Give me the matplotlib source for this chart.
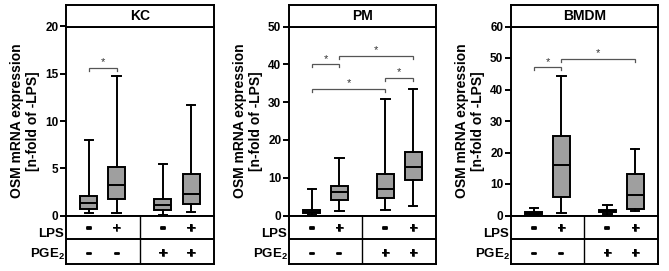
import matplotlib
matplotlib.use("Agg")
import matplotlib.pyplot as plt
import matplotlib.patheffects as pe

plt.rcParams['font.family'] = ['Liberation Sans', 'DejaVu Sans']
plt.rcParams['mathtext.fontset'] = 'custom'
plt.rcParams['mathtext.rm'] = 'Liberation Sans'
plt.rcParams['mathtext.bf'] = 'Liberation Sans:bold'

# ---------------- data ----------------
panel_titles = ["KC", "PM", "BMDM"]
ylabel_text = "OSM mRNA expression\n[n-fold of -LPS]"
lps_signs = ["-", "+", "-", "+"]
pge2_signs = ["-", "-", "+", "+"]
y_tops = [20, 50, 60]
y_steps = [5, 10, 10]

kc_whislo = [0.25, 0.25, 0.1, 0.42]
kc_q1 = [0.7, 1.72, 0.6, 1.26]
kc_med = [1.3, 3.26, 1.12, 2.3]
kc_q3 = [2.1, 5.15, 1.75, 4.4]
kc_whishi = [8.0, 14.8, 5.5, 11.65]

pm_whislo = [0.2, 1.15, 1.5, 2.5]
pm_q1 = [0.6, 4.05, 4.75, 9.4]
pm_med = [1.05, 6.25, 6.9, 12.95]
pm_q3 = [1.5, 7.9, 11.0, 16.8]
pm_whishi = [6.9, 15.1, 30.9, 33.5]

bmdm_whislo = [0.2, 0.7, 0.5, 1.3]
bmdm_q1 = [0.5, 5.8, 1.05, 2.2]
bmdm_med = [0.85, 16.0, 1.5, 6.5]
bmdm_q3 = [1.15, 25.1, 1.8, 13.1]
bmdm_whishi = [2.5, 44.3, 3.2, 21.1]

# significance brackets: (group a, group b, height)
kc_sig = [(0, 1, 15.6)]
pm_sig = [(0, 1, 40.0), (1, 3, 42.3), (0, 2, 33.4), (2, 3, 36.5)]
bmdm_sig = [(0, 1, 47.0), (1, 3, 49.6)]

panels = [
    (kc_whislo, kc_q1, kc_med, kc_q3, kc_whishi, kc_sig),
    (pm_whislo, pm_q1, pm_med, pm_q3, pm_whishi, pm_sig),
    (bmdm_whislo, bmdm_q1, bmdm_med, bmdm_q3, bmdm_whishi, bmdm_sig),
]

# ---------------- layout ----------------
W, H = 669, 271
fig = plt.figure(figsize=(W / 100, H / 100), dpi=100)

frame_left = [66, 289, 511]
frame_w = [148, 147, 147]
y_top, y_strip, y_plot, y_row, y_bot = 4.5, 26.5, 215.5, 238.5, 263.5
positions = [1.12, 1.87, 3.12, 3.88]
xlim = (0.5, 4.5)
LW = 1.4
box_color = "#9f9f9f"
sig_color = "#555555"
thick_dash = [pe.withStroke(linewidth=1.3, foreground='black')]
thick_plus = [pe.withStroke(linewidth=0.4, foreground='black')]


def fax(x0, y0, w, h):
    return fig.add_axes([x0 / W, 1 - (y0 + h) / H, w / W, h / H])


def sign_text(axb, x, y, s):
    if s == "-":
        axb.text(x, y, s, ha='center', va='center', fontsize=11, fontweight='bold',
                 path_effects=thick_dash)
    else:
        axb.text(x, y, s, ha='center', va='center', fontsize=10.5, fontweight='bold',
                 path_effects=thick_plus)


for i, (wl, q1, med, q3, wh, sig) in enumerate(panels):
    x0, w = frame_left[i], frame_w[i]
    # main plot
    ax = fax(x0, y_strip, w, y_plot - y_strip)
    stats = [dict(whislo=wl[k], q1=q1[k], med=med[k], q3=q3[k], whishi=wh[k], fliers=[])
             for k in range(4)]
    ax.bxp(stats, positions=positions, widths=0.46, patch_artist=True, showfliers=False,
           boxprops=dict(facecolor=box_color, edgecolor="black", linewidth=LW),
           medianprops=dict(color="black", linewidth=LW),
           whiskerprops=dict(color="black", linewidth=LW),
           capprops=dict(color="black", linewidth=LW))
    ax.set_xlim(*xlim)
    ax.set_ylim(0, y_tops[i])
    ax.set_xticks([])
    ax.set_yticks(range(0, y_tops[i] + 1, y_steps[i]))
    ax.tick_params(axis='y', direction='out', length=4, width=LW, labelsize=8.5, pad=1.5)
    for lab in ax.get_yticklabels():
        lab.set_fontweight('bold')
    for s in ax.spines.values():
        s.set_linewidth(LW)
    ax.set_ylabel(ylabel_text, fontsize=10, fontweight='bold', labelpad=4, linespacing=1.1)

    # significance brackets
    drop = y_tops[i] * 0.016
    for a, b, yv in sig:
        xa, xb = positions[a], positions[b]
        ax.plot([xa, xa, xb, xb], [yv - drop, yv, yv, yv - drop], color=sig_color,
                lw=0.9, solid_joinstyle='miter')
        ax.annotate("*", xy=((xa + xb) / 2, yv), xytext=(0, 0.5), textcoords='offset points',
                    ha='center', va='bottom', fontsize=8, color='#333333')

    # title strip
    axt = fax(x0, y_top, w, y_strip - y_top)
    axt.set_xticks([]); axt.set_yticks([])
    for s in axt.spines.values():
        s.set_linewidth(LW)
    axt.text(0.5, 0.5, panel_titles[i], ha='center', va='center', fontsize=10,
             fontweight='bold', transform=axt.transAxes)

    # table
    axb = fax(x0, y_plot, w, y_bot - y_plot)
    axb.set_xlim(*xlim)
    axb.set_ylim(1, 0)
    axb.set_xticks([]); axb.set_yticks([])
    for s in axb.spines.values():
        s.set_linewidth(LW)
    rb = (y_row - y_plot) / (y_bot - y_plot)
    axb.axhline(rb, color='black', lw=LW)
    axb.plot([(positions[1] + positions[2]) / 2] * 2, [0, 1], color='black', lw=1.0)
    for k in range(4):
        sign_text(axb, positions[k], rb * 0.55, lps_signs[k])
        sign_text(axb, positions[k], rb + (1 - rb) * 0.6, pge2_signs[k])
    tr = axb.get_yaxis_transform()
    axb.text(-0.015, rb * 0.8, "LPS", ha='right', va='center', fontsize=9.5,
             fontweight='bold', transform=tr)
    axb.text(-0.005, rb + (1 - rb) * 0.65, r"PGE$_\mathbf{2}$", ha='right', va='center',
             fontsize=9.5, fontweight='bold', transform=tr)

fig.savefig("out.png", dpi=100)
